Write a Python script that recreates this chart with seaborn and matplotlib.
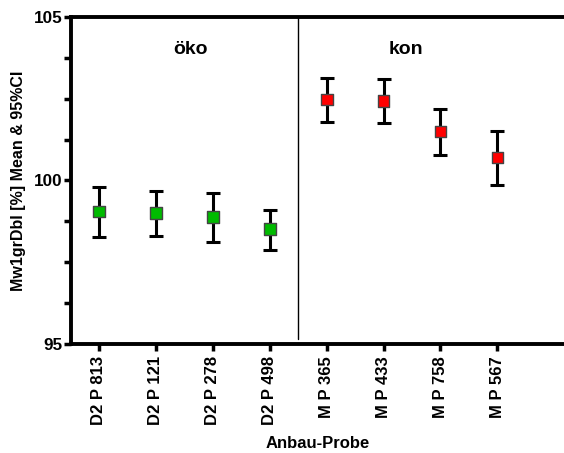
import numpy as np
import pandas as pd
import matplotlib
matplotlib.use("Agg")
import matplotlib.pyplot as plt
from matplotlib.ticker import MultipleLocator
import seaborn as sns

samples = ["D2 P 813", "D2 P 121", "D2 P 278", "D2 P 498",
           "M P 365", "M P 433", "M P 758", "M P 567"]
groups = ["öko", "öko", "öko", "öko", "kon", "kon", "kon", "kon"]
means = [99.05, 99.00, 98.89, 98.51, 102.48, 102.44, 101.50, 100.70]
ci_low = [98.27, 98.30, 98.12, 97.87, 101.79, 101.75, 100.77, 99.86]
ci_high = [99.79, 99.67, 99.61, 99.11, 103.13, 103.10, 102.20, 101.51]
group_colors = {"öko": "#00BB00", "kon": "#FF0000"}

df = pd.DataFrame({"Probe": samples, "Anbau": groups, "mean": means,
                   "lo": ci_low, "hi": ci_high})
df["pos"] = np.arange(len(df))

sns.set_style("ticks")
plt.rcParams["font.family"] = ["Liberation Sans", "DejaVu Sans"]
plt.rcParams["font.weight"] = "bold"
for key in ["text.color", "axes.labelcolor", "xtick.color", "ytick.color", "axes.edgecolor"]:
    plt.rcParams[key] = "black"

fig = plt.figure(figsize=(5.64, 4.53), dpi=100)
ax = fig.add_axes([0.126, 0.2406, 0.874, 0.7219])

ax.errorbar(df["pos"], df["mean"],
            yerr=[df["mean"] - df["lo"], df["hi"] - df["mean"]],
            fmt="none", ecolor="black", elinewidth=2.2, capsize=5,
            capthick=2.2, zorder=2)
sns.scatterplot(data=df, x="pos", y="mean", hue="Anbau", palette=group_colors,
                marker="s", s=72, edgecolor="#444444", linewidth=1.0,
                legend=False, ax=ax, zorder=3)

ax.axvline(3.5, ymin=0.015, ymax=1, color="black", lw=1.0)
ax.text(1.6, 104.0, "öko", ha="center", va="center", fontsize=14, fontweight="bold")
ax.text(5.4, 104.0, "kon", ha="center", va="center", fontsize=14, fontweight="bold")

ax.set_xlim(-0.49, 8.17)
ax.set_ylim(95, 105)
ax.set_xticks(df["pos"])
ax.set_xticklabels(df["Probe"], rotation=90, fontsize=12, fontweight="bold")
ax.set_yticks([95, 100, 105])
ax.set_yticklabels(["95", "100", "105"], fontsize=12.3, fontweight="bold")
ax.yaxis.set_minor_locator(MultipleLocator(1.25))
ax.tick_params(axis="both", which="major", direction="out", length=5, width=2.5)
ax.tick_params(axis="y", which="minor", direction="out", length=5, width=2.5)
ax.tick_params(axis="y", pad=1)

for side in ["left", "bottom", "top"]:
    ax.spines[side].set_linewidth(2.8)
    ax.spines[side].set_color("black")
ax.spines["right"].set_visible(False)

ax.set_xlabel("Anbau-Probe", fontsize=12, fontweight="bold")
ax.xaxis.set_label_coords(0.5, -0.305)
ax.xaxis.label.set_va("center")
ax.set_ylabel("Mw1grDbl [%] Mean & 95%CI", fontsize=11.5, fontweight="bold")
ax.yaxis.set_label_coords(-0.1060, 0.5)
ax.yaxis.label.set_va("center")

fig.savefig("out.png", dpi=100)
